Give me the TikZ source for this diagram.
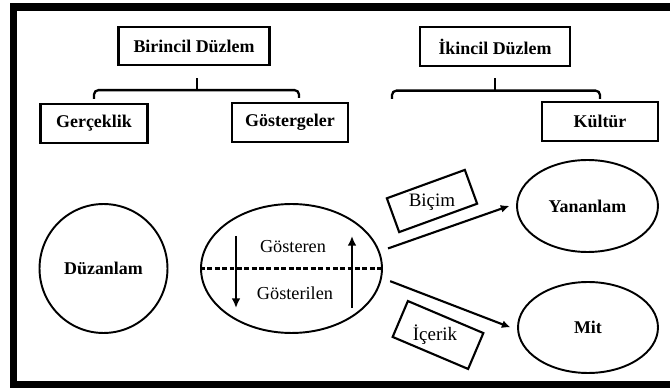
\documentclass[tikz,border=0pt]{standalone}
\usepackage{fontspec}
\setmainfont{Liberation Serif}
\usetikzlibrary{shapes.geometric,arrows.meta}
\begin{document}
\begin{tikzpicture}[x=0.02cm, y=-0.02cm,
box/.style={draw, line width=1.3pt, inner sep=0pt, font=\bfseries\fontsize{10.2}{12}\selectfont},
oval/.style={draw, ellipse, line width=1.1pt, inner sep=0pt, font=\bfseries\fontsize{10.2}{12}\selectfont},
brk/.style={line width=1.3pt, rounded corners=2.5pt},
lbl/.style={inner sep=0pt, font=\fontsize{10.4}{12}\selectfont},
tag/.style={inner sep=0pt, font=\fontsize{10.8}{13}\selectfont},
tagbox/.style={draw, line width=1.2pt, inner sep=0pt},
arr/.style={line width=1.2pt, -{Latex[length=5pt,width=4.5pt]}, shorten <=5pt, shorten >=4pt},
inarr/.style={line width=1.5pt, -{Latex[length=5.5pt,width=5pt]}}]
\useasboundingbox (0,0) rectangle (670,391);
\draw[line width=4.5pt] (672,7) -- (13.5,7) -- (13.5,384.5) -- (672,384.5);
\node[box, minimum width=3.02cm, minimum height=0.76cm] (bd) at (194,46) {Birincil Düzlem};
\node[box, minimum width=2.14cm, minimum height=0.78cm] (ger) at (94,123.5) {Gerçeklik};
\node[box, minimum width=2.32cm, minimum height=0.78cm] (gos) at (290,122.5) {Göstergeler};
\node[box, minimum width=3.0cm, minimum height=0.78cm] (id) at (495,46.5) {İkincil Düzlem};
\node[box, minimum width=2.32cm, minimum height=0.78cm] (kul) at (600,121.5) {Kültür};
\draw[brk] ([yshift=0.08cm]ger.north) |- ([yshift=-0.48cm]bd.south) -| ([xshift=0.18cm,yshift=0.08cm]gos.north);
\draw[line width=1.3pt] ([xshift=0.06cm,yshift=-0.24cm]bd.south) -- ([xshift=0.06cm,yshift=-0.48cm]bd.south);
\coordinate (ifree) at (392,99);
\draw[brk] (ifree) |- ([yshift=-0.47cm]id.south) -| ([yshift=0.04cm]kul.north);
\draw[line width=1.3pt] ([yshift=-0.22cm]id.south) -- ([yshift=-0.47cm]id.south);
\node[oval, minimum width=2.56cm, minimum height=2.58cm] (duz) at (103.5,268.5) {Düzanlam};
\node[oval, minimum width=3.62cm, minimum height=2.58cm] (gst) at (291.5,268.5) {};
\node[oval, minimum width=2.82cm, minimum height=1.84cm] (yan) at (587.5,206) {Yananlam};
\node[oval, minimum width=2.8cm, minimum height=1.82cm] (mit) at (588,327.5) {Mit};
\draw[line width=1.4pt, dash pattern=on 2.8pt off 1.4pt] (gst.west) -- (gst.east);
\node[lbl] (gter) at (293,247) {Gösteren};
\node[lbl] (glen) at (295,293) {Gösterilen};
\coordinate (d1) at (236,236);
\coordinate (d2) at (236,308);
\coordinate (u1) at (352,308);
\coordinate (u2) at (352,236);
\draw[inarr] (d1) -- (d2);
\draw[inarr] (u1) -- (u2);
\draw[arr] (gst.11) -- (yan.178);
\draw[arr] (gst.-6) -- (mit.182);
\node[tagbox, rotate=20, minimum width=1.66cm, minimum height=0.72cm] (bicbox) at (432,201) {};
\node[tag] (bic) at (432,202) {Biçim};
\node[tagbox, rotate=-23, minimum width=1.64cm, minimum height=0.78cm] (icbox) at (438,335) {};
\node[tag] (ic) at (435,335) {İçerik};
\end{tikzpicture}
\end{document}
